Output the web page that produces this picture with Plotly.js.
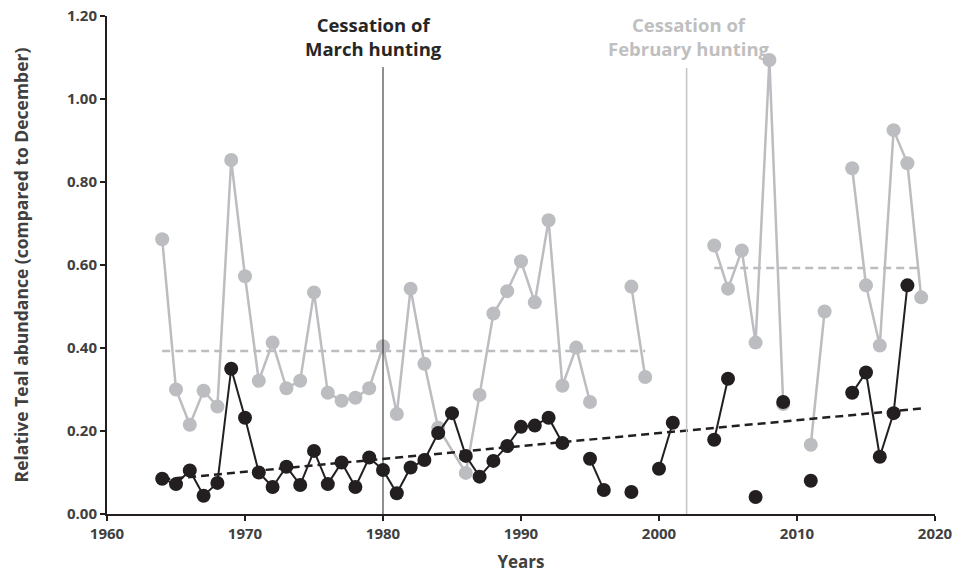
<!DOCTYPE html>
<html>
<head>
<meta charset="utf-8">
<script src="https://cdn.plot.ly/plotly-3.0.1.min.js"></script>
<style>html,body{margin:0;padding:0;background:#fff}#chart{width:957px;height:579px}</style>
</head>
<body>
<div id="chart"></div>
<script>
// Grey series (relative abundance, later month) – null = missing year
const grayYears = [1964,1965,1966,1967,1968,1969,1970,1971,1972,1973,1974,1975,1976,1977,1978,1979,1980,1981,1982,1983,1984,1986,1987,1988,1989,1990,1991,1992,1993,1994,1995,1996,1997,1998,1999,2000,2001,2002,2003,2004,2005,2006,2007,2008,2009,2010,2011,2012,2013,2014,2015,2016,2017,2018,2019];
const grayValues = [0.662,0.300,0.215,0.297,0.259,0.853,0.573,0.321,0.413,0.303,0.321,0.534,0.292,0.273,0.280,0.303,0.404,0.241,0.543,0.362,0.208,0.099,0.287,0.483,0.537,0.609,0.510,0.708,0.309,0.401,0.270,null,null,0.548,0.330,null,null,null,null,0.647,0.543,0.635,0.413,1.094,0.265,null,0.167,0.488,null,0.833,0.551,0.406,0.925,0.845,0.522];

// Black series
const blackYears = [1964,1965,1966,1967,1968,1969,1970,1971,1972,1973,1974,1975,1976,1977,1978,1979,1980,1981,1982,1983,1984,1985,1986,1987,1988,1989,1990,1991,1992,1993,1994,1995,1996,1997,1998,1999,2000,2001,2002,2003,2004,2005,2006,2007,2008,2009,2010,2011,2012,2013,2014,2015,2016,2017,2018];
const blackValues = [0.085,0.072,0.105,0.044,0.075,0.350,0.232,0.100,0.065,0.114,0.070,0.152,0.072,0.124,0.065,0.136,0.106,0.050,0.112,0.130,0.195,0.243,0.140,0.090,0.128,0.164,0.210,0.213,0.232,0.171,null,0.133,0.058,null,0.053,null,0.109,0.220,null,null,0.179,0.326,null,0.041,null,0.270,null,0.080,null,null,0.292,0.341,0.138,0.243,0.551];

// Trend / mean lines
const blackTrendYears = [1964, 2019];
const blackTrendValues = [0.083, 0.254];
const grayMean1Years = [1964, 1999];
const grayMean1Values = [0.393, 0.393];
const grayMean2Years = [2004, 2019];
const grayMean2Values = [0.593, 0.593];

// Event markers
const eventYears = [1980, 2002];
const eventLabels = ['Cessation of<br>March hunting', 'Cessation of<br>February hunting'];

const GRAY = '#bcbdc0';
const BLACK = '#231f20';
const FONT = '"Open Sans", Lato, sans-serif';

const traces = [
  {x: grayMean1Years, y: grayMean1Values, mode: 'lines', line: {color: GRAY, width: 2.5, dash: '8px,5px'}, hoverinfo: 'skip'},
  {x: grayMean2Years, y: grayMean2Values, mode: 'lines', line: {color: GRAY, width: 2.5, dash: '8px,5px'}, hoverinfo: 'skip'},
  {x: grayYears, y: grayValues, mode: 'lines+markers', connectgaps: false,
   line: {color: GRAY, width: 2.5}, marker: {color: GRAY, size: 14}},
  {x: blackTrendYears, y: blackTrendValues, mode: 'lines', line: {color: BLACK, width: 2.5, dash: '8px,5px'}, hoverinfo: 'skip'},
  {x: blackYears, y: blackValues, mode: 'lines+markers', connectgaps: false,
   line: {color: BLACK, width: 2}, marker: {color: BLACK, size: 14}}
];

const layout = {
  width: 957, height: 579,
  margin: {l: 107, r: 22, t: 16, b: 65},
  paper_bgcolor: '#fff', plot_bgcolor: '#fff',
  showlegend: false,
  font: {family: FONT, color: '#404040'},
  xaxis: {
    range: [1960, 2020], tickvals: [1960,1970,1980,1990,2000,2010,2020],
    showgrid: false, zeroline: false, showline: true, linecolor: '#231f20', linewidth: 2,
    ticks: 'outside', ticklen: 5, tickwidth: 2, tickcolor: '#231f20',
    tickfont: {family: FONT, size: 15, color: '#404040', weight: 700},
    title: {text: '<b>Years</b>', font: {family: FONT, size: 17, color: '#404040'}, standoff: 14}
  },
  yaxis: {
    range: [0, 1.2], tickvals: [0,0.2,0.4,0.6,0.8,1.0,1.2], tickformat: '.2f',
    ticksuffix: '\u00a0\u00a0',
    showgrid: false, zeroline: false, showline: true, linecolor: '#231f20', linewidth: 2,
    ticks: 'outside', ticklen: 5, tickwidth: 2, tickcolor: '#231f20',
    tickfont: {family: FONT, size: 15, color: '#404040', weight: 700},
    title: {text: '<b>Relative Teal abundance (compared to December)</b>', font: {family: FONT, size: 17.5, color: '#404040'}, standoff: 34}
  },
  shapes: [
    {type: 'line', xref: 'x', yref: 'y', x0: eventYears[0], x1: eventYears[0], y0: 0, y1: 1.077, line: {color: BLACK, width: 1}},
    {type: 'line', xref: 'x', yref: 'y', x0: eventYears[1], x1: eventYears[1], y0: 0, y1: 1.075, line: {color: '#c4c4c4', width: 1.5}}
  ],
  annotations: [
    {xref: 'x', yref: 'y', x: eventYears[0] - 0.7, y: 1.15, text: '<b>' + eventLabels[0] + '</b>', showarrow: false,
     font: {family: FONT, size: 18.5, color: '#262626'}, align: 'center', xanchor: 'center', yanchor: 'middle'},
    {xref: 'x', yref: 'y', x: eventYears[1] + 0.2, y: 1.15, text: '<b>' + eventLabels[1] + '</b>', showarrow: false,
     font: {family: FONT, size: 18.5, color: '#bfbfbf'}, align: 'center', xanchor: 'center', yanchor: 'middle'}
  ]
};

Plotly.newPlot('chart', traces, layout, {displayModeBar: false, staticPlot: true});
</script>
</body>
</html>
